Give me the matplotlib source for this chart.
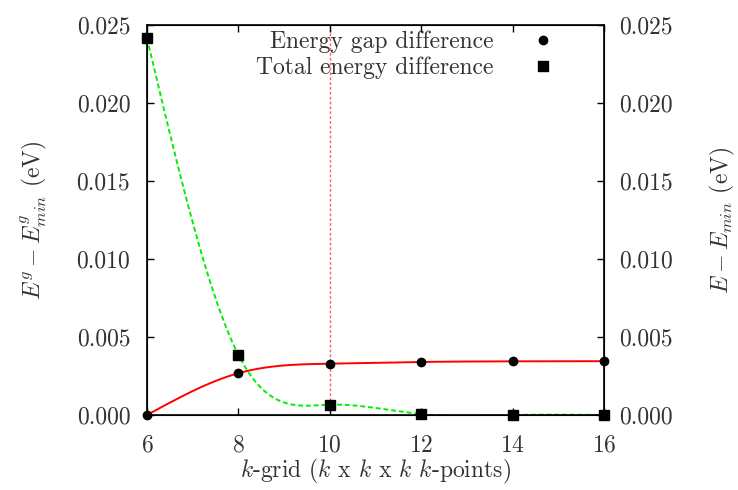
import numpy as np
import matplotlib
matplotlib.use("Agg")
import matplotlib.pyplot as plt
from matplotlib.lines import Line2D

plt.rcParams['font.family'] = ['cmr10', 'DejaVu Serif']
plt.rcParams['mathtext.fontset'] = 'cm'
plt.rcParams['axes.formatter.use_mathtext'] = True
plt.rcParams['axes.unicode_minus'] = False

# Data
kgrid = [6, 8, 10, 12, 14, 16]
gap_diff = [0.0, 0.00268, 0.00329, 0.00340, 0.00344, 0.00345]
tot_diff = [0.02415, 0.00385, 0.00066, 0.00006, 0.0, 0.0]
xticks = [6, 8, 10, 12, 14, 16]
yticks = [0.000, 0.005, 0.010, 0.015, 0.020, 0.025]
vline_x = 10


def natural_spline(x, y, xs):
    x = np.asarray(x, float)
    y = np.asarray(y, float)
    n = len(x)
    h = np.diff(x)
    A = np.zeros((n, n))
    b = np.zeros(n)
    A[0, 0] = 1
    A[-1, -1] = 1
    for i in range(1, n - 1):
        A[i, i - 1] = h[i - 1]
        A[i, i] = 2 * (h[i - 1] + h[i])
        A[i, i + 1] = h[i]
        b[i] = 3 * ((y[i + 1] - y[i]) / h[i] - (y[i] - y[i - 1]) / h[i - 1])
    c = np.linalg.solve(A, b)
    out = np.empty_like(xs)
    for j, xv in enumerate(xs):
        i = min(max(np.searchsorted(x, xv) - 1, 0), n - 2)
        d = (c[i + 1] - c[i]) / (3 * h[i])
        bb = (y[i + 1] - y[i]) / h[i] - h[i] * (2 * c[i] + c[i + 1]) / 3
        t = xv - x[i]
        out[j] = y[i] + bb * t + c[i] * t ** 2 + d * t ** 3
    return out


FS = 17
TXT = '#333333'

fig = plt.figure(figsize=(7.38, 4.9), dpi=100)
ax = fig.add_axes([147 / 738, 75 / 490, (604 - 147) / 738, (415 - 25) / 490])

xs = np.linspace(min(kgrid), max(kgrid), 400)
ax.plot(xs, natural_spline(kgrid, gap_diff, xs), color='#ff0000', lw=1.4, zorder=2)
ax.plot(xs, natural_spline(kgrid, tot_diff, xs), color='#00ee00', lw=1.4,
        dashes=(2.5, 1.5), zorder=2)
ax.axvline(vline_x, color='#ff6060', lw=1.0, dashes=(2, 1.5), zorder=1)

ax.plot(kgrid, gap_diff, 'o', color='black', ms=6, clip_on=False, zorder=3)
ax.plot(kgrid, tot_diff, 's', color='black', ms=7, clip_on=False, zorder=3)

ax.set_xlim(6, 16)
ax.set_ylim(0, 0.025)
ax.set_xticks(xticks)
ax.set_yticks(yticks)
ax.yaxis.set_major_formatter(matplotlib.ticker.FormatStrFormatter('%.3f'))
ax.tick_params(direction='in', length=5, width=1, top=True, labelsize=FS,
               labelcolor=TXT)
ax.tick_params(axis='y', pad=12)
ax.tick_params(axis='x', pad=14)
for s in ax.spines.values():
    s.set_linewidth(1.2)

ax2 = ax.twinx()
ax2.set_ylim(0, 0.025)
ax2.set_yticks(yticks)
ax2.yaxis.set_major_formatter(matplotlib.ticker.FormatStrFormatter('%.3f'))
ax2.tick_params(direction='in', length=5, width=1, labelsize=FS,
                labelcolor=TXT, pad=11)

ax.set_xlabel(r'$k$-grid ($k$ x $k$ x $k$ $k$-points)', fontsize=FS,
              color=TXT, labelpad=0)
ax.set_ylabel(r'$E^g - E^g_{min}$ (eV)', fontsize=FS, color=TXT,
              labelpad=20)
ax2.set_ylabel(r'$E - E_{min}$ (eV)', fontsize=FS, color=TXT,
               labelpad=25)

handles = [Line2D([], [], ls='none', marker='o', color='black', ms=6),
           Line2D([], [], ls='none', marker='s', color='black', ms=7)]
leg = ax.legend(handles, ['Energy gap difference', 'Total energy difference'],
                loc='upper left', bbox_to_anchor=((256 - 147) / 457, 0.985),
                frameon=False, markerfirst=False, fontsize=FS,
                handletextpad=1.1, handlelength=2.0, labelspacing=0.15,
                borderpad=0, borderaxespad=0)
for t in leg.get_texts():
    t.set_color(TXT)

fig.savefig('out.png', dpi=100)
